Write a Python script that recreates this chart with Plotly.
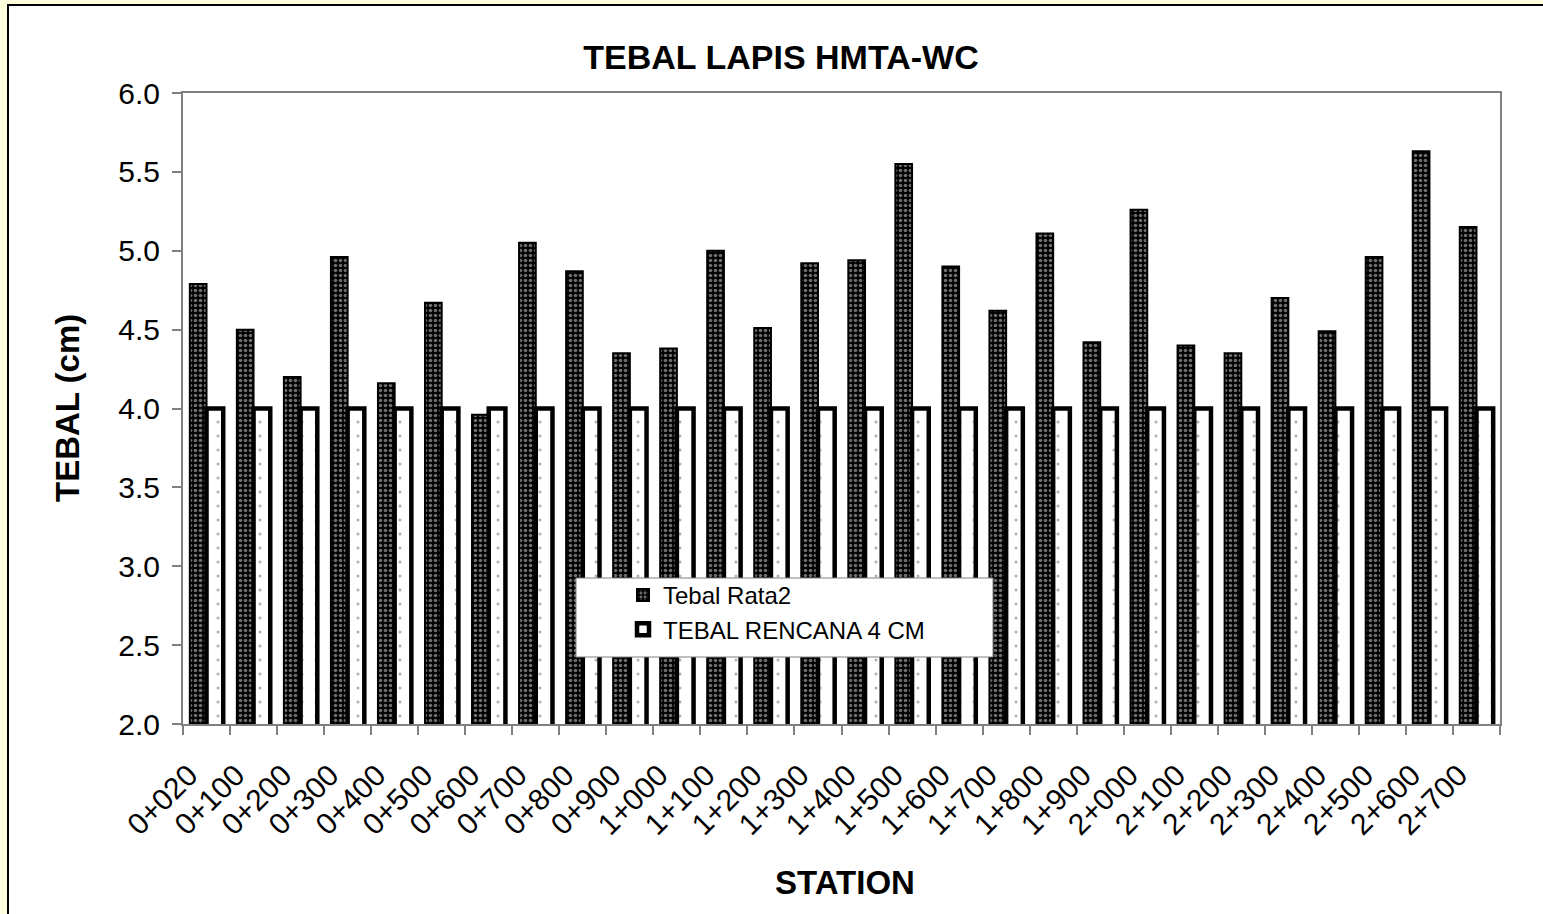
import plotly.graph_objects as go

stations = ["0+020", "0+100", "0+200", "0+300", "0+400", "0+500", "0+600", "0+700",
            "0+800", "0+900", "1+000", "1+100", "1+200", "1+300", "1+400", "1+500",
            "1+600", "1+700", "1+800", "1+900", "2+000", "2+100", "2+200", "2+300",
            "2+400", "2+500", "2+600", "2+700"]
tebal_rata2 = [4.79, 4.50, 4.20, 4.96, 4.16, 4.67, 3.96, 5.05, 4.87, 4.35, 4.38, 5.00,
               4.51, 4.92, 4.94, 5.55, 4.90, 4.62, 5.11, 4.42, 5.26, 4.40, 4.35, 4.70,
               4.49, 4.96, 5.63, 5.15]
tebal_rencana = [4.0] * len(stations)
y_ticks = [2.0, 2.5, 3.0, 3.5, 4.0, 4.5, 5.0, 5.5, 6.0]

W, H = 1543, 914
L, R, T, B = 183, 1500, 93, 724
FONT = "Liberation Sans, Arial, sans-serif"


def px(xp):
    return (xp - L) / (R - L)


def py(yp):
    return (B - yp) / (B - T)


fig = go.Figure()
fig.add_trace(go.Bar(
    x=stations, y=tebal_rata2, name="Tebal Rata2",
    marker=dict(color="#000000", line=dict(color="#000000", width=2),
                pattern=dict(shape=".", fgcolor="#dcdcdc", bgcolor="#000000",
                             size=5, solidity=0.4)),
    legendgroup="a",
))
fig.add_trace(go.Bar(
    x=stations, y=tebal_rencana, name="TEBAL RENCANA 4 CM",
    marker=dict(color="#ffffff", line=dict(color="#000000", width=4.5),
                pattern=dict(shape=".", fgcolor="#666666", bgcolor="#ffffff",
                             size=14, solidity=0.04)),
    legendgroup="b",
))

shapes = [
    # chart area with black frame on the yellow page
    dict(type="rect", xref="paper", yref="paper", layer="below",
         x0=px(8), x1=px(W + 20), y0=py(5), y1=py(H + 20),
         fillcolor="#ffffff", line=dict(color="#000000", width=2)),
    # legend box
    dict(type="rect", xref="paper", yref="paper", layer="above",
         x0=px(576), x1=px(993), y0=py(578), y1=py(657),
         fillcolor="#ffffff", line=dict(color="#808080", width=1)),
]

fig.update_layout(
    width=W, height=H,
    margin=dict(l=L, r=W - R, t=T, b=H - B, autoexpand=False),
    paper_bgcolor="#ffffdd",
    plot_bgcolor="#ffffff",
    barmode="group", bargap=0.29, bargroupgap=0.0,
    font=dict(family=FONT, color="#000000"),
    title=dict(text="<b>TEBAL LAPIS HMTA-WC</b>", font=dict(size=34, family=FONT),
               x=781 / W, xanchor="center", xref="container",
               y=1 - 57 / H, yanchor="middle", yref="container"),
    shapes=shapes,
    showlegend=True,
    legend=dict(x=px(623), y=py(573), xanchor="left", yanchor="top",
                bgcolor="rgba(0,0,0,0)", borderwidth=0,
                font=dict(size=24, family=FONT), tracegroupgap=10,
                traceorder="normal"),
    annotations=[
        dict(text="<b>TEBAL (cm)</b>", xref="paper", yref="paper",
             x=px(67), y=py(408), textangle=-90, showarrow=False,
             font=dict(size=33, family=FONT), xanchor="center", yanchor="middle"),
        dict(text="<b>STATION</b>", xref="paper", yref="paper",
             x=px(845), y=py(882), showarrow=False,
             font=dict(size=33, family=FONT), xanchor="center", yanchor="middle"),
    ],
)

fig.update_xaxes(
    type="category", tickson="boundaries", ticks="outside", ticklen=9,
    tickcolor="#808080", tickwidth=1.5, showline=True, linecolor="#808080",
    linewidth=2, mirror=True, showgrid=False, tickangle=-45,
    tickfont=dict(size=30, family=FONT), ticklabelstandoff=2,
    tickvals=stations, ticktext=[s + "\u00a0\u00a0\u00a0" for s in stations],
)
fig.update_yaxes(
    range=[2, 6], tickvals=y_ticks, ticktext=[f"{v:.1f}" for v in y_ticks],
    ticks="outside", ticklen=9, tickcolor="#808080", tickwidth=1.5,
    showline=True, linecolor="#808080", linewidth=2, mirror=True,
    showgrid=False, zeroline=False, tickfont=dict(size=30, family=FONT),
    ticklabelstandoff=6,
)

fig.write_html("out.html")
